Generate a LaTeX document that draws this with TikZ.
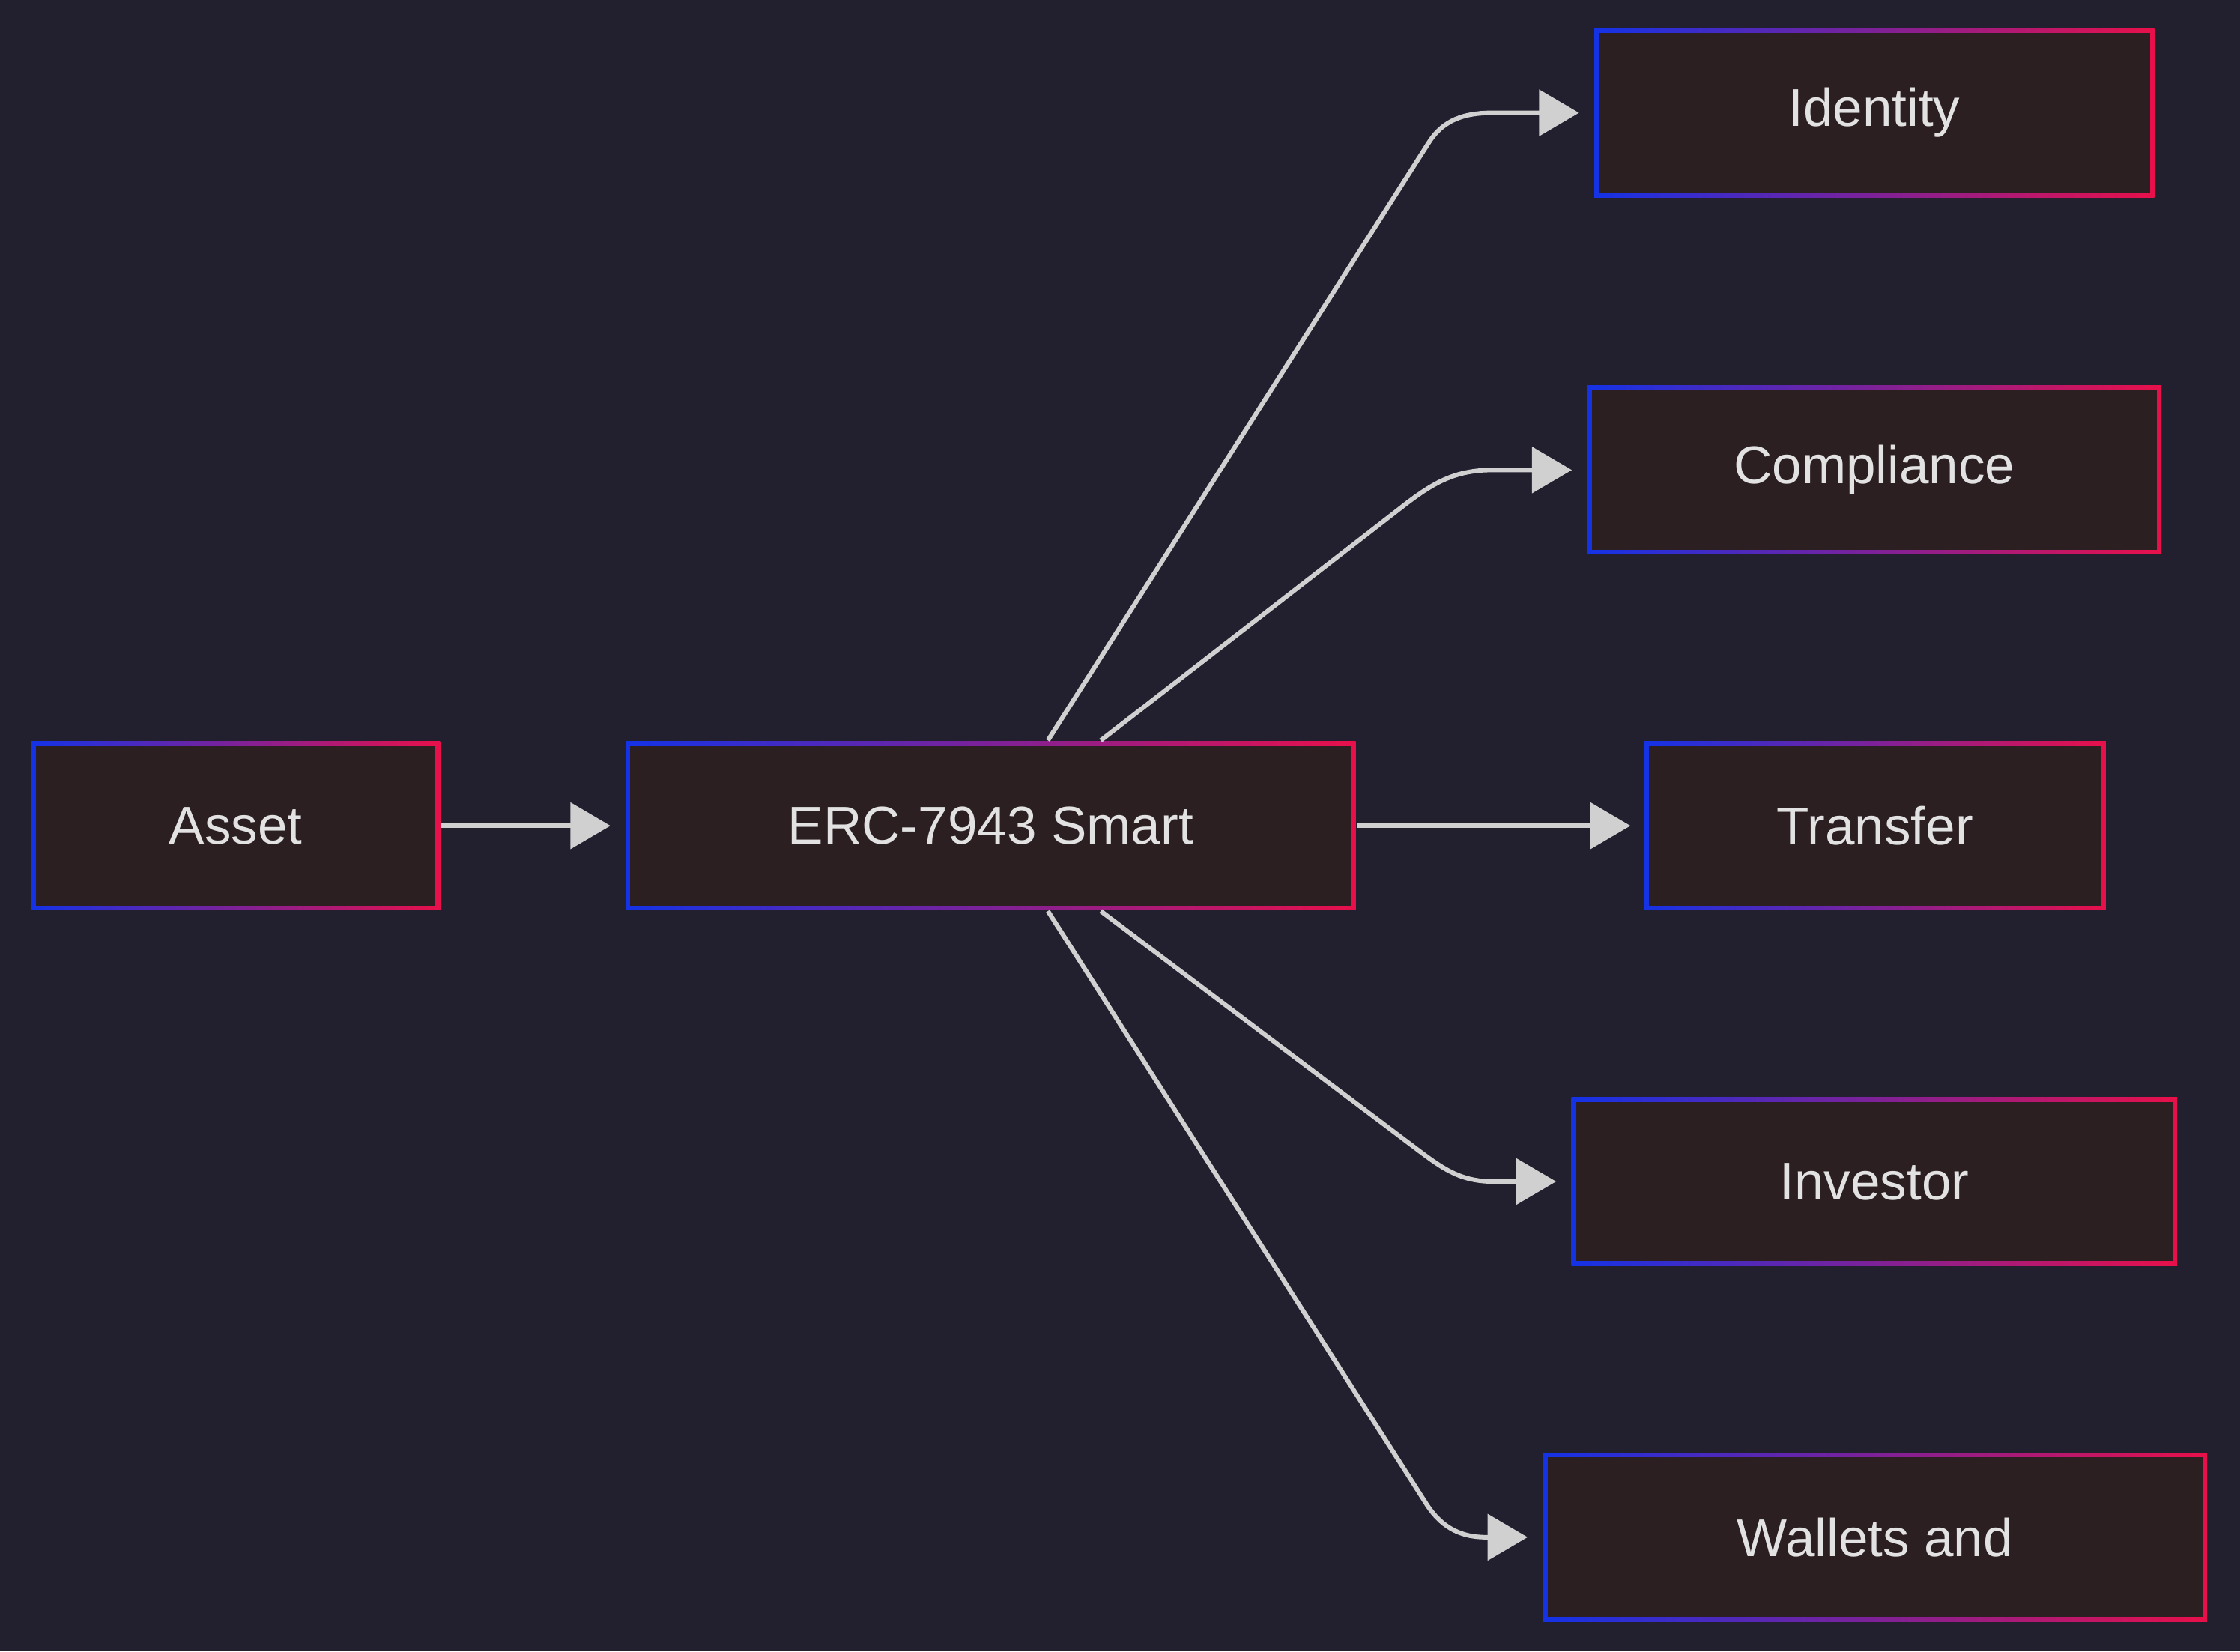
\documentclass[tikz,border=0pt]{standalone}
\usepackage{fontspec}
\setmainfont{Liberation Sans}
\usetikzlibrary{arrows.meta}
\definecolor{bgcol}{HTML}{22202F}
\definecolor{boxcol}{HTML}{2C1F22}
\definecolor{txtcol}{HTML}{E2E2E2}
\definecolor{edgecol}{HTML}{D0D0D0}
\definecolor{bluecol}{HTML}{1432E6}
\definecolor{redcol}{HTML}{E8104A}
\tikzset{
	box/.style={minimum height=1.18cm, inner sep=0pt, left color=bluecol, right color=redcol,
		text=txtcol, font=\fontsize{10.6}{12}\selectfont,
		path picture={\fill[boxcol] ([shift={(0.9pt,0.9pt)}]path picture bounding box.south west) rectangle ([shift={(-0.9pt,-0.9pt)}]path picture bounding box.north east);}},
	edge/.style={draw=edgecol, line width=0.9pt, -{Triangle[length=0.28cm,width=0.32cm]}, shorten >=0.1cm},
}
\begin{document}
\begin{tikzpicture}
	\fill[bgcol] (0,0) rectangle (15.68,-11.56);
	\node[box, minimum width=2.86cm] (asset) at (1.65,-5.78) {Asset};
	\node[box, minimum width=5.11cm] (erc) at (6.935,-5.78) {ERC-7943 Smart};
	\node[box, minimum width=3.92cm] (identity) at (13.12,-0.79) {Identity};
	\node[box, minimum width=4.02cm] (compliance) at (13.12,-3.29) {Compliance};
	\node[box, minimum width=3.23cm] (transfer) at (13.125,-5.78) {Transfer};
	\node[box, minimum width=4.24cm] (investor) at (13.12,-8.27) {Investor};
	\node[box, minimum width=4.65cm] (wallets) at (13.125,-10.76) {Wallets and};
	% connectors
	\draw[edge, shorten >=0pt] (asset.east) -- ([xshift=-0.1cm]erc.west);
	\draw[edge] (erc.east) -- ([xshift=0.01cm]transfer.west);
	\draw[edge] ([xshift=0.4cm]erc.north) -- (10.0,-1.0) to[out=58,in=180] (10.45,-0.79) -- (identity.west);
	\draw[edge] ([xshift=0.77cm]erc.north) -- (9.85,-3.52) to[out=37,in=180] (10.45,-3.29) -- (compliance.west);
	\draw[edge] ([xshift=0.77cm]erc.south) -- (9.9,-8.03) to[out=-37,in=180] (10.45,-8.27) -- (investor.west);
	\draw[edge] ([xshift=0.4cm]erc.south) -- (9.98,-10.52) to[out=-58,in=180] (10.4,-10.76) -- (wallets.west);
\end{tikzpicture}
\end{document}
